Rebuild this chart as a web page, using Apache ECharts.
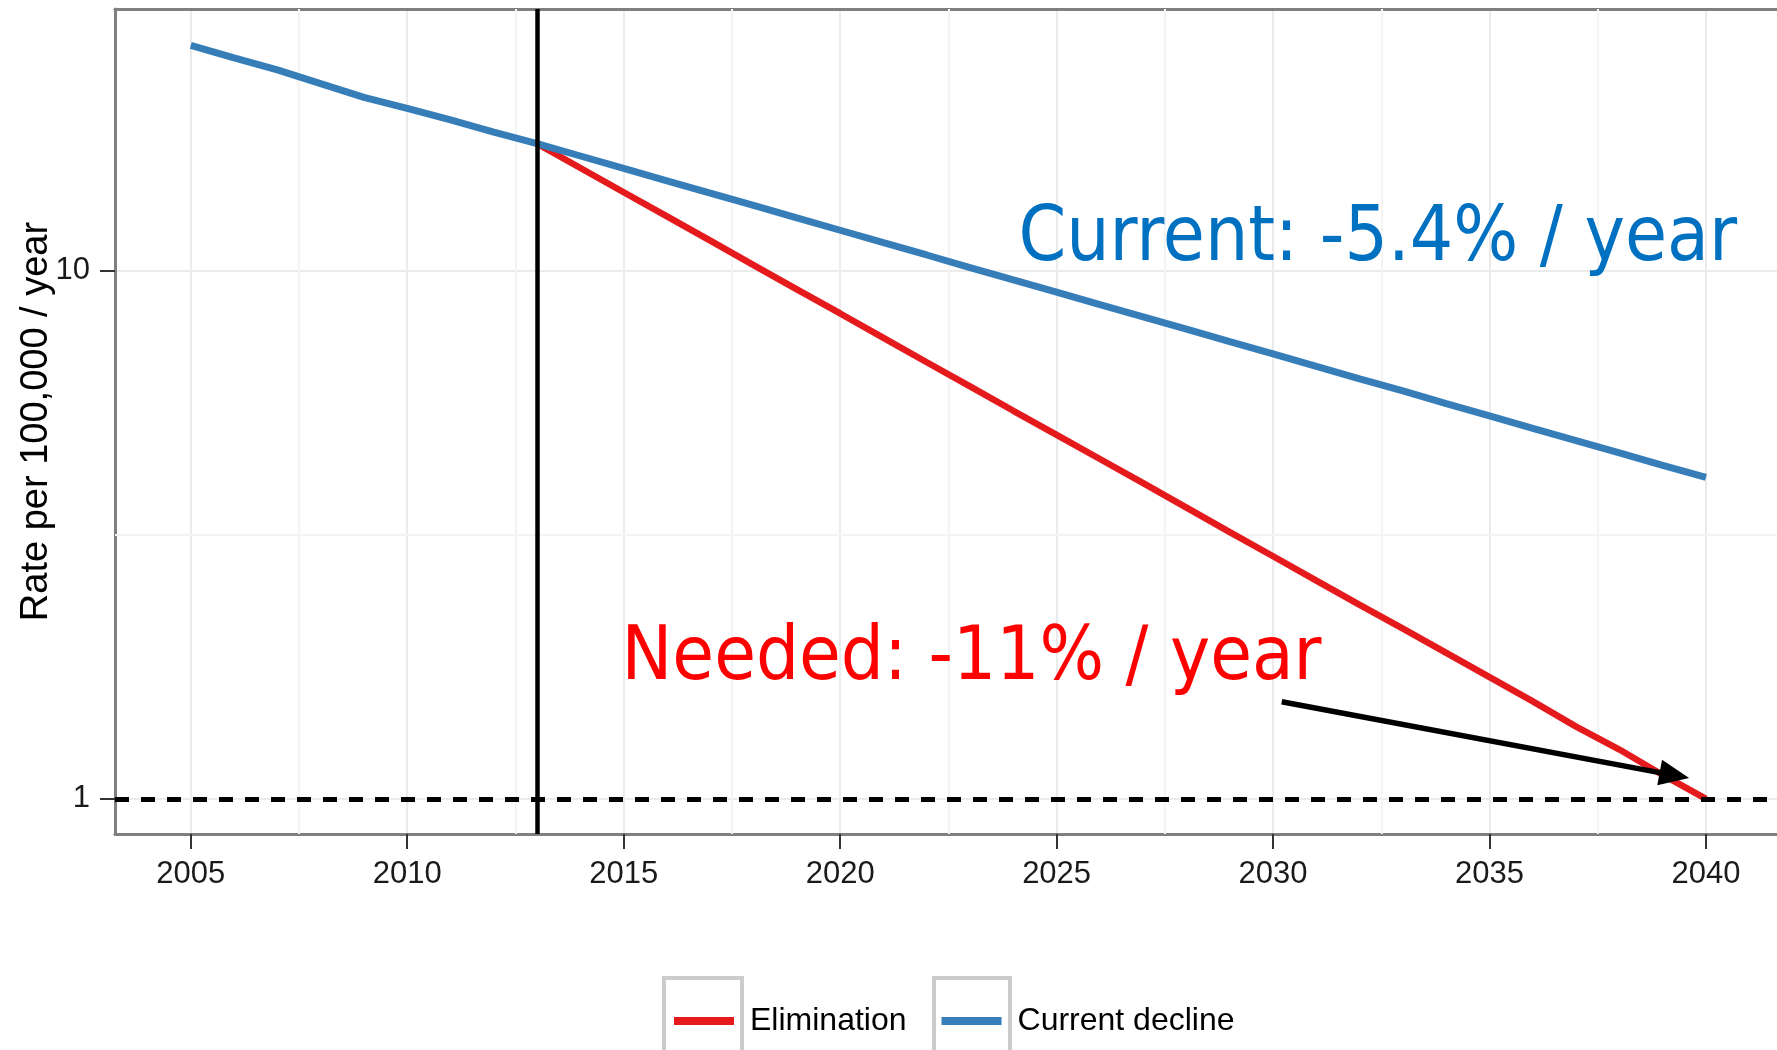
<!DOCTYPE html>
<html><head><meta charset="utf-8">
<script src="https://cdn.jsdelivr.net/npm/echarts@6/dist/echarts.min.js"></script>
<style>html,body{margin:0;padding:0;background:#fff}#c{width:1777px;height:1050px}</style>
</head><body><div id="c"></div>
<script>
const histYears = [2005,2006,2007,2008,2009,2010,2011,2012,2013];
const histRate = [26.7,25.3,24.0,22.6,21.3,20.3,19.3,18.3,17.4];
const projYears = [2013,2014,2015,2016,2017,2018,2019,2020,2021,2022,2023,2024,2025,2026,2027,2028,2029,2030,2031,2032,2033,2034,2035,2036,2037,2038,2039,2040];
const currentDecline = [17.40,16.49,15.62,14.80,14.02,13.29,12.59,11.93,11.30,10.71,10.14,9.61,9.11,8.63,8.18,7.75,7.34,6.96,6.59,6.24,5.92,5.60,5.31,5.03,4.77,4.52,4.28,4.06];
const elimination = [17.40,15.65,14.08,12.67,11.40,10.25,9.22,8.30,7.46,6.71,6.04,5.43,4.89,4.40,3.96,3.56,3.20,2.88,2.59,2.33,2.10,1.89,1.70,1.53,1.37,1.24,1.11,1.00];
const xTicks = [2005,2010,2015,2020,2025,2030,2035,2040];
const xMinor = [2007.5,2012.5,2017.5,2022.5,2027.5,2032.5,2037.5];
const yTicks = [1,10];
const yMinor = [3.1623];
const baseYear = 2013;
const targetRate = 1;
const annotations = [
  {text:'Current: -5.4% / year', year:2024.12, rate:11.40, color:'#0070C0', size:76},
  {text:'Needed: -11% / year', year:2014.95, rate:1.834, color:'#FF0000', size:75.5}
];
const arrowFrom = [2030.2, 1.527];
const arrowTo = [2039.27, 1.108];
const seriesNames = ['Elimination','Current decline'];

const blueData = histYears.map((y,i)=>[y,histRate[i]]).concat(projYears.slice(1).map((y,i)=>[y,currentDecline[i+1]]));
const redData = projYears.map((y,i)=>[y,elimination[i]]);

const font = "'Liberation Sans', Arial, sans-serif";
const annFont = "'DejaVu Sans Condensed', 'DejaVu Sans', sans-serif";
const borderLine = {show:true, lineStyle:{color:'#7F7F7F', width:3}};

const chart = echarts.init(document.getElementById('c'));
chart.setOption({
  animation:false,
  backgroundColor:'#fff',
  grid:{left:115, top:9, right:0, bottom:216, show:false},
  legend:{
    data:seriesNames, left:669, top:1000, itemWidth:60, itemHeight:8, itemGap:35, icon:'rect',
    textStyle:{fontFamily:font, fontSize:32, color:'#000', padding:[0,0,0,11]}
  },
  xAxis:[{
    type:'value', min:2003.25, max:2041.64, position:'bottom',
    axisLine:borderLine,
    axisTick:{show:true, length:15, lineStyle:{color:'#333', width:2}, customValues:xTicks},
    axisLabel:{fontFamily:font, fontSize:31, color:'#1a1a1a', margin:25, customValues:xTicks, formatter:v=>String(v)},
    splitLine:{show:true, lineStyle:{color:'#EBEBEB', width:2}}
  },{
    type:'value', min:2003.25, max:2041.64, position:'top',
    axisLine:borderLine, axisTick:{show:false}, axisLabel:{show:false}, splitLine:{show:false}
  }],
  yAxis:{
    type:'log', logBase:10, min:0.858, max:31.3,
    name:'Rate per 100,000 / year', nameLocation:'middle', nameGap:59, nameMoveOverlap:false,
    nameTextStyle:{fontFamily:font, fontSize:38, color:'#000'},
    axisLine:borderLine,
    axisTick:{show:true, length:15, lineStyle:{color:'#333', width:2}, customValues:yTicks},
    axisLabel:{fontFamily:font, fontSize:31, color:'#1a1a1a', margin:25, customValues:yTicks},
    splitLine:{show:true, lineStyle:{color:'#EBEBEB', width:2}}
  },
  graphic:[
    {type:'rect', shape:{x:664, y:978, width:78, height:110}, style:{fill:'none', stroke:'#CCCCCC', lineWidth:4}},
    {type:'rect', shape:{x:934, y:978, width:76, height:110}, style:{fill:'none', stroke:'#CCCCCC', lineWidth:4}}
  ],
  series:[
    {name:'minorGrid', type:'line', data:[], z:1, silent:true,
     markLine:{z:1, silent:true, symbol:['none','none'], label:{show:false}, lineStyle:{color:'#F4F4F4', width:2, type:'solid'},
       data:xMinor.map(v=>({xAxis:v})).concat(yMinor.map(v=>({yAxis:v})))}},
    {name:seriesNames[0], type:'line', data:redData, showSymbol:false, z:3,
     lineStyle:{color:'#E41A1C', width:6.5}, itemStyle:{color:'#E41A1C'}},
    {name:seriesNames[1], type:'line', data:blueData, showSymbol:false, z:4,
     lineStyle:{color:'#377EB8', width:7}, itemStyle:{color:'#377EB8'}},
    {name:'refs', type:'line', data:[], z:10, silent:true,
     markLine:{z:10, silent:true, symbol:['none','none'], label:{show:false},
       data:[
         {xAxis:baseYear, lineStyle:{color:'#000', width:4.5, type:'solid'}},
         {yAxis:targetRate, lineStyle:{color:'#000', width:5, type:[14,12]}},
         [{coord:arrowFrom, symbol:'none'},{coord:arrowTo, symbol:'triangle', symbolSize:[26,30]}]
       ],
       lineStyle:{color:'#000', width:5.5, type:'solid'}
     },
     markPoint:{z:10, silent:true, symbol:'circle', symbolSize:0,
       data:annotations.map(a=>({coord:[a.year,a.rate], value:a.text,
         label:{show:true, position:'right', distance:0, formatter:a.text, color:a.color, fontFamily:annFont, fontSize:a.size}}))}
    }
  ]
});
</script></body></html>
